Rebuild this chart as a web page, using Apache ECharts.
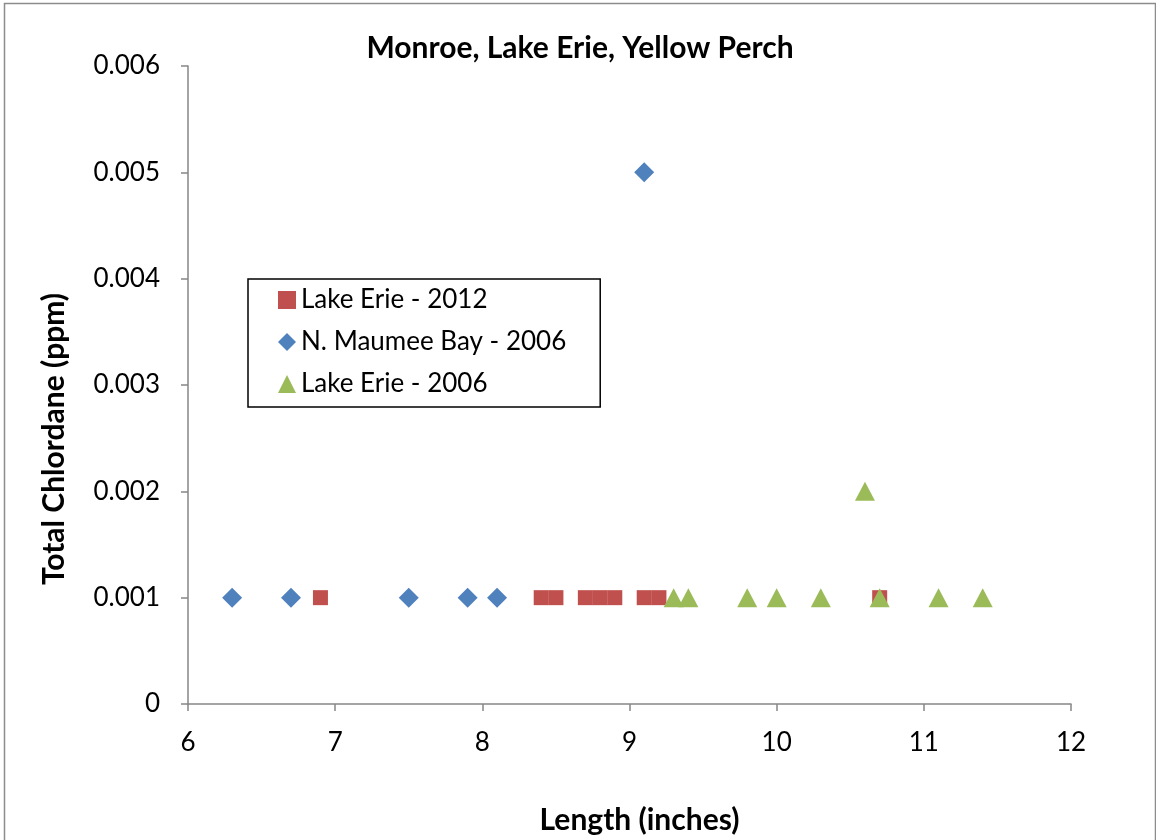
<!DOCTYPE html>
<html>
<head>
<meta charset="utf-8">
<script src="https://cdn.jsdelivr.net/npm/echarts@6/dist/echarts.min.js"></script>
<style>
html,body{margin:0;padding:0;background:#fff;}
#chart{width:1156px;height:840px;}
</style>
</head>
<body>
<div id="chart"></div>
<script>
// Data
var lakeErie2012X = [6.9, 8.4, 8.5, 8.7, 8.8, 8.9, 9.1, 9.2, 10.7];
var lakeErie2012Y = [0.001, 0.001, 0.001, 0.001, 0.001, 0.001, 0.001, 0.001, 0.001];
var maumee2006X = [6.3, 6.7, 7.5, 7.9, 8.1, 9.1];
var maumee2006Y = [0.001, 0.001, 0.001, 0.001, 0.001, 0.005];
var lakeErie2006X = [9.3, 9.4, 9.8, 10.0, 10.3, 10.6, 10.7, 11.1, 11.4];
var lakeErie2006Y = [0.001, 0.001, 0.001, 0.001, 0.001, 0.002, 0.001, 0.001, 0.001];
var seriesNames = ['Lake Erie - 2012', 'N. Maumee Bay - 2006', 'Lake Erie - 2006'];
var titleText = 'Monroe, Lake Erie, Yellow Perch';
var xAxisTitle = 'Length (inches)';
var yAxisTitle = 'Total Chlordane (ppm)';

function pairs(xs, ys) { return xs.map(function (x, i) { return [x, ys[i]]; }); }

var FONT = 'Lato';
var axisColor = '#868686';
var chart = echarts.init(document.getElementById('chart'), null, {renderer: 'canvas'});
chart.setOption({
  animation: false,
  backgroundColor: '#fff',
  graphic: [{
    type: 'rect', left: 2, top: 1, silent: true, z: -1,
    shape: {width: 1151, height: 900},
    style: {fill: 'none', stroke: '#8c8c8c', lineWidth: 1.5}
  }, {
    type: 'text', x: 54, y: 439, rotation: Math.PI / 2, silent: true,
    style: {text: yAxisTitle, fill: '#000', font: 'bold 30px Lato',
      align: 'center', verticalAlign: 'middle'}
  }],
  title: {
    text: titleText, left: 575, top: 28, textAlign: 'center',
    textStyle: {fontFamily: FONT, fontWeight: 'bold', fontSize: 30, color: '#000'}
  },
  grid: {left: 188, right: 85, top: 66, bottom: 136, containLabel: false},
  legend: {
    orient: 'vertical', left: 248, top: 279,
    data: seriesNames,
    borderColor: '#000', borderWidth: 1.5, borderRadius: 0,
    padding: [8, 34, 10, 30], itemGap: 16,
    itemWidth: 18, itemHeight: 18,
    textStyle: {fontFamily: FONT, fontSize: 26, color: '#000'}
  },
  xAxis: {
    type: 'value', min: 6, max: 12, interval: 1,
    name: xAxisTitle, nameLocation: 'middle', nameGap: 101,
    nameTextStyle: {fontFamily: FONT, fontWeight: 'bold', fontSize: 30, color: '#000',
      padding: [0, 0, 0, 20]},
    axisLine: {show: true, lineStyle: {color: axisColor, width: 1.5}},
    axisTick: {show: true, length: 7, lineStyle: {color: axisColor, width: 1.5}},
    splitLine: {show: false},
    axisLabel: {fontFamily: FONT, fontSize: 26, color: '#000', margin: 26}
  },
  yAxis: {
    type: 'value', min: 0, max: 0.006, interval: 0.001,
    axisLine: {show: true, lineStyle: {color: axisColor, width: 1.5}},
    axisTick: {show: true, length: 7, lineStyle: {color: axisColor, width: 1.5}},
    splitLine: {show: false},
    axisLabel: {fontFamily: FONT, fontSize: 26, color: '#000', margin: 28,
      formatter: function (v) { return v === 0 ? '0' : v.toFixed(3); }}
  },
  series: [{
    name: seriesNames[0], type: 'scatter', symbol: 'rect', symbolSize: 15,
    itemStyle: {color: '#C0504D', opacity: 1},
    data: pairs(lakeErie2012X, lakeErie2012Y)
  }, {
    name: seriesNames[1], type: 'scatter', symbol: 'diamond', symbolSize: 20,
    itemStyle: {color: '#4F81BD', opacity: 1},
    data: pairs(maumee2006X, maumee2006Y)
  }, {
    name: seriesNames[2], type: 'scatter', symbol: 'triangle', symbolSize: [20, 19],
    itemStyle: {color: '#9BBB59', opacity: 1},
    data: pairs(lakeErie2006X, lakeErie2006Y)
  }]
});
</script>
</body>
</html>
